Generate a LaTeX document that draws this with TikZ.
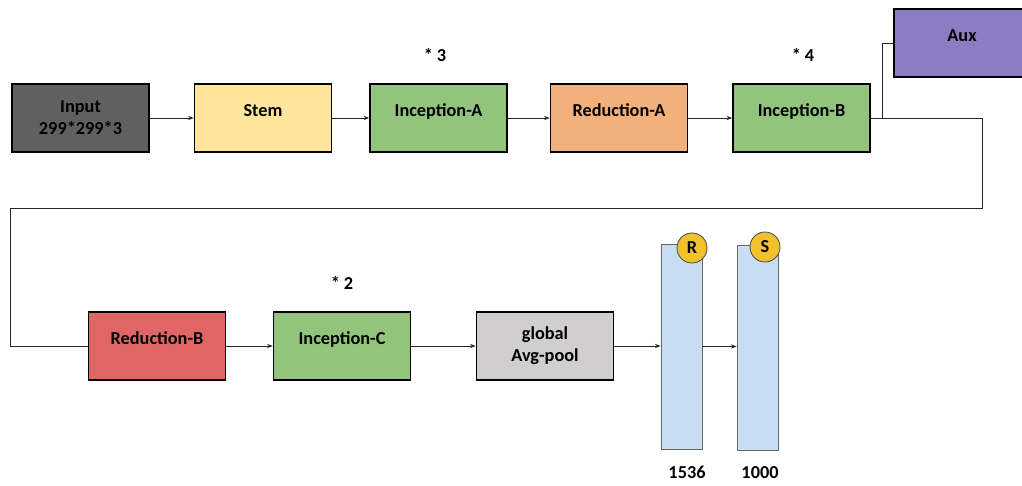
\documentclass[tikz,border=0pt]{standalone}
\usepackage{fontspec}
\setmainfont{Carlito}
\usepackage{tikz}
\usetikzlibrary{arrows.meta,positioning,calc}
\definecolor{pdark}{HTML}{606060}
\definecolor{pyellow}{HTML}{FFE49B}
\definecolor{pgreen}{HTML}{93C47D}
\definecolor{porange}{HTML}{F4B07A}
\definecolor{pred}{HTML}{E06666}
\definecolor{ppurple}{HTML}{8E7CC3}
\definecolor{pgray}{HTML}{D0CECE}
\definecolor{pblue}{HTML}{C7DDF1}
\definecolor{pgold}{HTML}{F2C12E}

\begin{document}
\begin{tikzpicture}[
    font=\fontsize{13}{15.5}\selectfont\bfseries,
    bx/.style={draw=black,line width=1.1pt,
               minimum width=3.425cm,minimum height=1.7cm,
               align=center,inner sep=2pt},
    one/.style={text height=0.3cm,text depth=0.36cm},
    bar/.style={draw=black!60,fill=pblue,line width=0.6pt,
                minimum width=1.025cm,minimum height=5.125cm,inner sep=0pt},
    dot/.style={circle,draw=black!70,fill=pgold,line width=0.6pt,
                minimum size=0.75cm,inner sep=0pt},
    arr/.style={-{Stealth[length=4pt,width=3pt]},line width=0.6pt,black!85},
    ln/.style={line width=0.6pt,black!85},
    lbl/.style={font=\fontsize{13}{15}\selectfont\bfseries}
  ]
    \useasboundingbox (0,0) rectangle (25.55,-12.125);

    % Top row
    \node[bx,fill=pdark] (inp)  at (2.0125,-2.95)  {Input\\299*299*3};
    \node[bx,one,fill=pyellow] (stem) at (6.575,-2.95) {Stem};
    \node[bx,one,fill=pgreen] (incA) at (10.9625,-2.95) {Inception-A};
    \node[bx,one,fill=porange] (redA) at (15.475,-2.95) {Reduction-A};
    \node[bx,one,fill=pgreen] (incB) at (20.0375,-2.95) {Inception-B};
    \node[bx,one,fill=ppurple,minimum width=3.4cm]
      (aux) at (24.05,-1.075) {Aux};

    % Bottom row
    \node[bx,one,fill=pred] (redB) at (3.925,-8.65) {Reduction-B};
    \node[bx,one,fill=pgreen] (incC) at (8.55,-8.65) {Inception-C};
    \node[bx,fill=pgray] (pool) at (13.625,-8.65) {global\\Avg-pool};
    \node[bar] (fcR) at (17.0375,-8.6625) {};
    \node[bar] (fcS) at (18.9375,-8.7) {};
    \node[dot] (dR) at (17.3,-6.2) {R};
    \node[dot] (dS) at (19.125,-6.175) {S};

    % Repeat counts and sizes
    \node[lbl] (nA) at (10.875,-1.375) {* 3};
    \node[lbl] (nB) at (20.075,-1.375) {* 4};
    \node[lbl] (nC) at (8.55,-7.075) {* 2};
    \node[lbl] (sR) at (17.175,-11.82) {1536};
    \node[lbl] (sS) at (19.0,-11.82) {1000};

    % Arrows
    \draw[arr] (inp) -- (stem);
    \draw[arr] (stem) -- (incA);
    \draw[arr] (incA) -- (redA);
    \draw[arr] (redA) -- (incB);
    \draw[arr] (redB) -- (incC);
    \draw[arr] (incC) -- (pool);
    \draw[arr] (pool.east) -- (pool.east -| fcR.west);
    \draw[arr] (fcR.east) -- (fcR.east -| fcS.west);

    % Wrap-around and aux branch
    \coordinate (tap) at (22.05,-2.95);
    \draw[ln] (incB.east) -- (24.55,-2.95) |- (0.25,-5.2) |- (redB.west);
    \draw[ln] (tap) |- (aux.west);

  \end{tikzpicture}
\end{document}
